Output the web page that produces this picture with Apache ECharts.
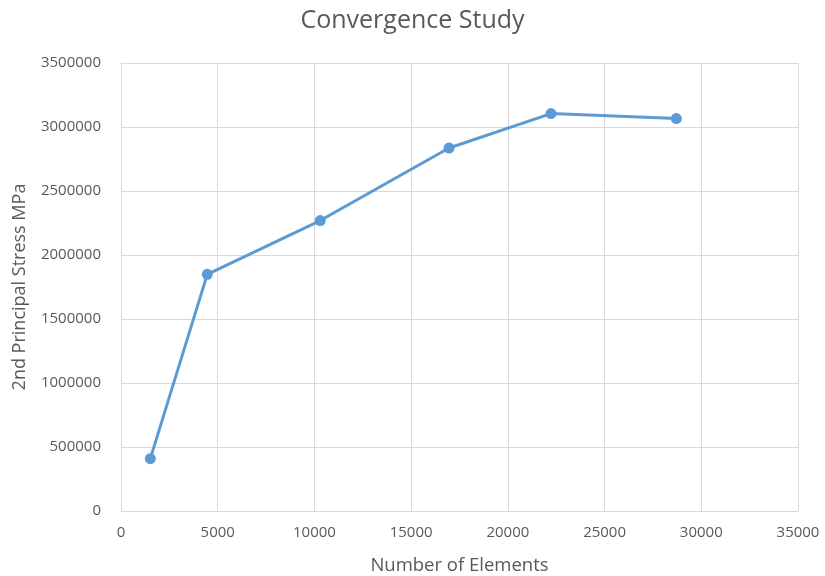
<!DOCTYPE html>
<html>
<head>
<meta charset="utf-8">
<script src="https://cdn.jsdelivr.net/npm/echarts@6/dist/echarts.min.js"></script>
<style>
  html, body { margin: 0; padding: 0; background: #fff; }
  #chart { width: 825px; height: 576px; }
</style>
</head>
<body>
<div id="chart"></div>
<script>
// Mesh convergence: element count vs. 2nd principal stress
const elementCounts = [1515, 4460, 10300, 16960, 22230, 28710];
const stressValues = [409000, 1849000, 2269000, 2836000, 3105000, 3066000];

const textColor = '#595959';
const gridColor = '#d9d9d9';
const fontFamily = '"Open Sans", sans-serif';
const plain = v => String(v);

const chart = echarts.init(document.getElementById('chart'));
chart.setOption({
  animation: false,
  backgroundColor: '#ffffff',
  title: {
    text: 'Convergence Study',
    left: 'center',
    top: 3,
    textStyle: { color: textColor, fontSize: 25, fontWeight: 'normal', fontFamily }
  },
  grid: { left: 121, right: 27, top: 63, bottom: 65, outerBoundsMode: 'none', containLabel: false },
  xAxis: {
    type: 'value',
    min: 0,
    max: 35000,
    interval: 5000,
    name: 'Number of Elements',
    nameLocation: 'middle',
    nameGap: 45,
    nameTextStyle: { color: textColor, fontSize: 18.5, fontFamily },
    axisLine: { show: true, lineStyle: { color: gridColor } },
    axisTick: { show: false },
    axisLabel: { color: textColor, fontSize: 15, margin: 14, fontFamily, formatter: plain },
    splitLine: { show: true, lineStyle: { color: gridColor, width: 1 } }
  },
  yAxis: {
    type: 'value',
    min: 0,
    max: 3500000,
    interval: 500000,
    name: '2nd Principal Stress MPa',
    nameLocation: 'middle',
    nameGap: 92,
    nameTextStyle: { color: textColor, fontSize: 18, fontFamily },
    axisLine: { show: true, lineStyle: { color: gridColor } },
    axisTick: { show: false },
    axisLabel: { color: textColor, fontSize: 15, margin: 20, fontFamily, formatter: plain },
    splitLine: { show: true, lineStyle: { color: gridColor, width: 1 } }
  },
  series: [{
    type: 'line',
    data: elementCounts.map((x, i) => [x, stressValues[i]]),
    symbol: 'circle',
    symbolSize: 11,
    lineStyle: { color: '#5b9bd5', width: 3 },
    itemStyle: { color: '#5b9bd5' }
  }]
});
</script>
</body>
</html>
